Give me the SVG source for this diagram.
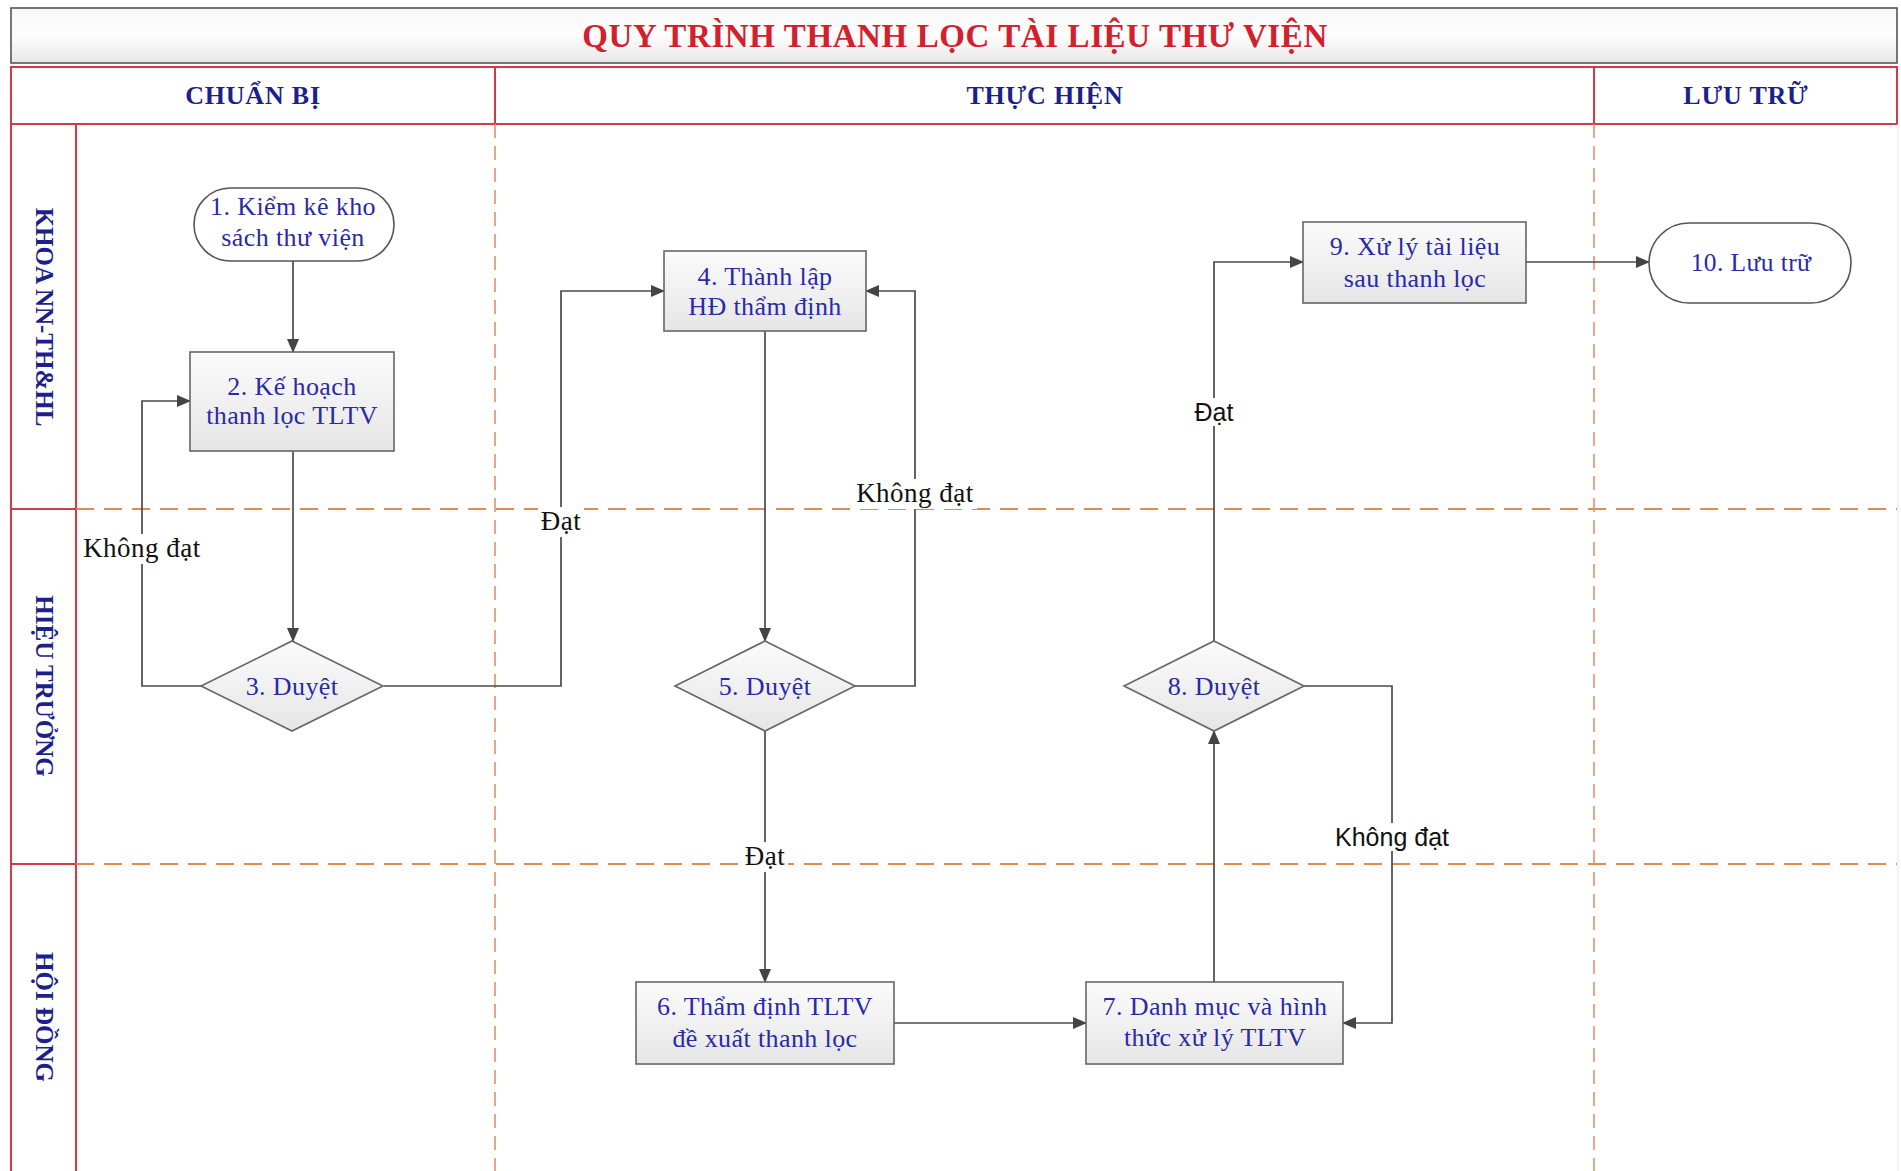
<svg xmlns="http://www.w3.org/2000/svg" width="1901" height="1171" viewBox="0 0 1901 1171">
<style>
.node text, .lbl { font-family: "Liberation Serif", "Times New Roman", serif; }
.nt { font-size: 26px; fill: #2a2aa6; text-anchor: middle; dominant-baseline: central; letter-spacing: 0.4px; }
.box { fill: url(#gNode); stroke: #666; stroke-width: 1.6; }
.term { fill: #ffffff; stroke: #555; stroke-width: 1.6; }
.hdr { font-family: "Liberation Serif", serif; font-weight: bold; font-size: 26px; fill: #1c1f8c; text-anchor: middle; dominant-baseline: central; letter-spacing: 0.8px; }
.lane { font-family: "Liberation Serif", serif; font-weight: bold; font-size: 25px; fill: #1c1f8c; text-anchor: middle; dominant-baseline: central; }
.conn path { fill: none; stroke: #4a4a4a; stroke-width: 1.7; }
.lbl { font-size: 27px; fill: #111; text-anchor: middle; dominant-baseline: central; letter-spacing: 0.5px; }
.lbls { font-family: "Liberation Sans", Arial, sans-serif; font-size: 25px; fill: #111; text-anchor: middle; dominant-baseline: central; }
.lb { fill: #fff; }
.hdash { stroke: #e48a4e; stroke-width: 2; stroke-dasharray: 18 10; fill: none; }
.vdash { stroke: #e2906a; stroke-width: 1.6; stroke-dasharray: 14 8; fill: none; }
.red { stroke: #d23a4a; stroke-width: 2; fill: none; }
</style>
<defs>
<linearGradient id="gNode" x1="0" y1="0" x2="0" y2="1">
<stop offset="0" stop-color="#fbfbfb"/><stop offset="1" stop-color="#e6e6e6"/>
</linearGradient>
<linearGradient id="gHead" x1="0" y1="0" x2="0" y2="1">
<stop offset="0" stop-color="#f7f7f7"/><stop offset="0.5" stop-color="#fdfdfd"/><stop offset="1" stop-color="#e7e7e7"/>
</linearGradient>
<linearGradient id="gLane" x1="0" y1="0" x2="1" y2="0">
<stop offset="0" stop-color="#e9e9ee"/><stop offset="1" stop-color="#f8f8f8"/>
</linearGradient>
<marker id="arr" markerUnits="userSpaceOnUse" markerWidth="14" markerHeight="12" refX="13" refY="6" orient="auto">
<path d="M0,0 L14,6 L0,12 z" fill="#444"/>
</marker>
</defs>
<rect x="0" y="0" width="1901" height="1171" fill="#fff"/>

<!-- Title -->
<g id="title">
<rect x="11" y="8" width="1886" height="55" fill="url(#gHead)" stroke="#555" stroke-width="1.6"/>
<text x="955" y="36" style="font-family:'Liberation Serif',serif;font-weight:bold;font-size:33px;letter-spacing:0.6px;fill:#d2202c;text-anchor:middle;dominant-baseline:central">QUY TRÌNH THANH LỌC TÀI LIỆU THƯ VIỆN</text>
</g>

<!-- Column headers -->
<g id="col-chuanbi">
<rect x="11" y="67" width="484" height="57" fill="url(#gHead)" class="red"/>
<text class="hdr" x="253" y="95">CHUẨN BỊ</text>
</g>
<g id="col-thuchien">
<rect x="495" y="67" width="1099" height="57" fill="url(#gHead)" class="red"/>
<text class="hdr" x="1045" y="95">THỰC HIỆN</text>
</g>
<g id="col-luutru">
<rect x="1594" y="67" width="303" height="57" fill="url(#gHead)" class="red"/>
<text class="hdr" x="1746" y="95">LƯU TRỮ</text>
</g>

<!-- Lane labels -->
<g id="lane-khoa">
<rect x="11" y="124" width="65" height="385" fill="url(#gLane)" class="red"/>
<text class="lane" transform="translate(44,317) rotate(90)">KHOA NN-TH&amp;HL</text>
</g>
<g id="lane-hieutruong">
<rect x="11" y="509" width="65" height="355" fill="url(#gLane)" class="red"/>
<text class="lane" transform="translate(44,686) rotate(90)">HIỆU TRƯỞNG</text>
</g>
<g id="lane-hoidong">
<rect x="11" y="864" width="65" height="310" fill="url(#gLane)" class="red"/>
<text class="lane" transform="translate(44,1017) rotate(90)">HỘI ĐỒNG</text>
</g>

<!-- Separators -->
<g id="separators">
<path class="hdash" d="M76,509 H1897"/>
<path class="hdash" d="M76,864 H1897"/>
<path class="vdash" d="M495,124 V1171"/>
<path class="vdash" d="M1594,124 V1171"/>
<path d="M1898,124 V1171" stroke="#eee" stroke-width="1.5"/>
</g>

<!-- Connectors -->
<g id="connectors" class="conn">
<path d="M293,261 V352" marker-end="url(#arr)"/>
<path d="M293,451 V641" marker-end="url(#arr)"/>
<path d="M202,686 H142 V401 H190" marker-end="url(#arr)"/>
<path d="M384,686 H561 V291 H664" marker-end="url(#arr)"/>
<path d="M765,331 V641" marker-end="url(#arr)"/>
<path d="M855,686 H915 V291 H866" marker-end="url(#arr)"/>
<path d="M765,731 V982" marker-end="url(#arr)"/>
<path d="M894,1023 H1086" marker-end="url(#arr)"/>
<path d="M1214,982 V731" marker-end="url(#arr)"/>
<path d="M1214,641 V262 H1303" marker-end="url(#arr)"/>
<path d="M1304,686 H1392 V1023 H1343" marker-end="url(#arr)"/>
<path d="M1526,262 H1649" marker-end="url(#arr)"/>
<g id="labels">
<rect class="lb" x="80" y="534" width="124" height="30"/>
<text class="lbl" x="142" y="548">Không đạt</text>
<rect class="lb" x="538" y="507" width="46" height="30"/>
<text class="lbl" x="561" y="521">Đạt</text>
<rect class="lb" x="853" y="479" width="124" height="30"/>
<text class="lbl" x="915" y="493">Không đạt</text>
<rect class="lb" x="742" y="842" width="46" height="30"/>
<text class="lbl" x="765" y="856">Đạt</text>
<rect class="lb" x="1192" y="398" width="44" height="28"/>
<text class="lbls" x="1214" y="412">Đạt</text>
<rect class="lb" x="1331" y="823" width="122" height="28"/>
<text class="lbls" x="1392" y="837">Không đạt</text>
</g>
</g>

<!-- Nodes -->
<g id="n1" class="node">
<rect class="term" x="194" y="188" width="200" height="73" rx="36.5"/>
<text class="nt" x="293" y="206">1. Kiểm kê kho</text>
<text class="nt" x="293" y="237">sách thư viện</text>
</g>
<g id="n2" class="node">
<rect class="box" x="190" y="352" width="204" height="99"/>
<text class="nt" x="292" y="386">2. Kế hoạch</text>
<text class="nt" x="292" y="415">thanh lọc TLTV</text>
</g>
<g id="n3" class="node">
<polygon class="box" points="292,641 383,686 292,731 201,686"/>
<text class="nt" x="292" y="686">3. Duyệt</text>
</g>
<g id="n4" class="node">
<rect class="box" x="664" y="251" width="202" height="80"/>
<text class="nt" x="765" y="276">4. Thành lập</text>
<text class="nt" x="765" y="306">HĐ thẩm định</text>
</g>
<g id="n5" class="node">
<polygon class="box" points="765,641 855,686 765,731 675,686"/>
<text class="nt" x="765" y="686">5. Duyệt</text>
</g>
<g id="n6" class="node">
<rect class="box" x="636" y="982" width="258" height="82"/>
<text class="nt" x="765" y="1006">6. Thẩm định TLTV</text>
<text class="nt" x="765" y="1038">đề xuất thanh lọc</text>
</g>
<g id="n7" class="node">
<rect class="box" x="1086" y="982" width="257" height="82"/>
<text class="nt" x="1215" y="1006">7. Danh mục và hình</text>
<text class="nt" x="1215" y="1037">thức xử lý TLTV</text>
</g>
<g id="n8" class="node">
<polygon class="box" points="1214,641 1304,686 1214,731 1124,686"/>
<text class="nt" x="1214" y="686">8. Duyệt</text>
</g>
<g id="n9" class="node">
<rect class="box" x="1303" y="222" width="223" height="81"/>
<text class="nt" x="1415" y="246">9. Xử lý tài liệu</text>
<text class="nt" x="1415" y="278">sau thanh lọc</text>
</g>
<g id="n10" class="node">
<rect class="term" x="1649" y="223" width="202" height="80" rx="40"/>
<text class="nt" x="1751" y="262" style="font-size:25.5px">10. Lưu trữ</text>
</g>
</svg>
